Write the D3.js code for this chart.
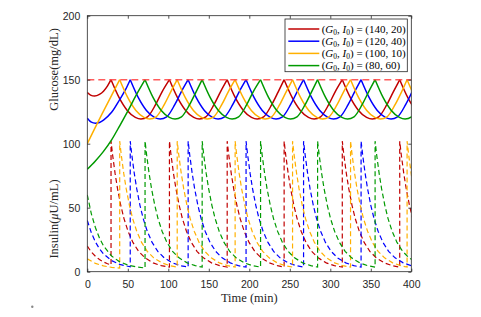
<!DOCTYPE html>
<html>
<head>
<meta charset="utf-8">
<script src="https://cdn.jsdelivr.net/npm/d3@7/dist/d3.min.js"></script>
<style>
  body { margin: 0; background: #fff; }
  svg { display: block; }
  .tick text { font-family: "Liberation Sans", Arial, sans-serif; font-size: 10.5px; fill: #262626; }
  .tick line { stroke: #262626; stroke-width: 0.8; }
  .lbl { font-family: "Liberation Serif", "Times New Roman", serif; font-size: 12.5px; fill: #262626; }
  .leg { font-family: "Liberation Serif", "Times New Roman", serif; font-size: 11px; fill: #000; }
</style>
</head>
<body>
<script>
// series: initial conditions (G0, I0)
var labels = ['(140, 20)', '(120, 40)', '(100, 10)', '(80, 60)'];
var colors = ['#c00000', '#0000ff', '#ffb000', '#009a00'];

var xTicks = [0, 50, 100, 150, 200, 250, 300, 350, 400];
var yTicks = [0, 50, 100, 150, 200];

var glucoseThreshold = 150;
var insulinFloor = 3.6;

// times (min) where glucose hits 150 and insulin jumps, read per series
var spikeTimes = [
	[29.3, 101.4, 172.7, 243, 314.8, 385.7],
	[53, 124.5, 196, 267, 338],
	[40, 111, 182.5, 253.4, 325, 394.8],
	[71.3, 141.8, 213.9, 284.3, 355.3]
];

// glucose before the first spike
var glucoseStart = [
	[[0, 140], [4, 138], [9, 137.2], [15, 138.5], [20, 141], [25, 145.2], [29.3, 150]],
	[[0, 120], [5, 116.8], [10, 116], [15, 116.6], [20, 118.5], [30, 124.5], [40, 134.5], [47, 142], [53, 150]],
	[[0, 100], [10, 113], [20, 125.5], [30, 137.8], [40, 150]],
	[[0, 80], [10, 86.5], [20, 94], [30, 103], [40, 114], [50, 125.5], [60, 137.5], [71.3, 150]]
];

// insulin before the first spike
var insulinStart = [
	[[0, 20], [5, 15.4], [10, 12.1], [15, 9.5], [20, 7.6], [25, 6.2], [29.3, 5.3]],
	[[0, 40], [5, 30.4], [10, 23.3], [15, 17.9], [20, 13.9], [30, 8.7], [40, 5.7], [53, 3.8]],
	[[0, 10], [10, 6.5], [20, 4.5], [30, 3.4], [40, 2.8]],
	[[0, 60], [5, 45.2], [10, 34.5], [15, 26.3], [20, 20.2], [30, 12.2], [40, 7.7], [50, 5.2], [60, 3.8], [71.3, 2.9]]
];

// one cycle after a spike (minutes since spike, value), same shape for all series
var glucoseCycle = [[0, 150], [10, 136], [20, 126], [30, 120.6], [37, 119.3], [45, 121], [55, 130.5], [63, 140.5]];
var insulinCycle = [[0, 102], [2, 91], [5, 76.8], [8, 64.9], [12, 51.9], [16, 41.5], [21, 31.6], [27, 22.9],
	[34, 15.9], [42, 10.8], [52, 6.9], [62, 4.7]];

var W = 481, H = 317;
var pLeft = 87.3, pRight = 411.3, pTop = 15.7, pBottom = 271.7;

var svg = d3.select('body').append('svg').attr('width', W).attr('height', H);

var x = d3.scaleLinear().domain([0, 400]).range([pLeft, pRight]);
var y = d3.scaleLinear().domain([0, 200]).range([pBottom, pTop]);

svg.append('clipPath').attr('id', 'clip')
	.append('rect').attr('x', pLeft).attr('y', pTop).attr('width', pRight - pLeft).attr('height', pBottom - pTop);

function glucoseSegments(k) {
	var spikes = spikeTimes[k];
	var segs = [glucoseStart[k]];
	spikes.forEach(function(ts, i) {
		var next = i + 1 < spikes.length ? spikes[i + 1] : Infinity;
		var seg = [];
		glucoseCycle.forEach(function(p) {
			if (ts + p[0] < next) seg.push([ts + p[0], p[1]]);
		});
		if (next < Infinity) seg.push([next, glucoseThreshold]);
		segs.push(seg);
	});
	return segs;
}

function insulinPoints(k) {
	var spikes = spikeTimes[k];
	var pts = insulinStart[k].slice();
	spikes.forEach(function(ts, i) {
		var next = i + 1 < spikes.length ? spikes[i + 1] : Infinity;
		insulinCycle.forEach(function(p) {
			if (ts + p[0] < next) pts.push([ts + p[0], p[1]]);
		});
		if (next < Infinity) pts.push([next, insulinFloor]);
	});
	return pts;
}

var smooth = d3.line().x(function(d) { return x(d[0]); }).y(function(d) { return y(d[1]); }).curve(d3.curveMonotoneX);
var straight = d3.line().x(function(d) { return x(d[0]); }).y(function(d) { return y(d[1]); });

var plot = svg.append('g').attr('clip-path', 'url(#clip)');

// insulin (dashed)
labels.forEach(function(l, k) {
	plot.append('path')
		.attr('d', straight(insulinPoints(k)))
		.attr('fill', 'none')
		.attr('stroke', colors[k])
		.attr('stroke-width', 1.2)
		.attr('stroke-dasharray', '5,3');
});

// glucose (solid)
labels.forEach(function(l, k) {
	glucoseSegments(k).forEach(function(seg) {
		plot.append('path')
			.attr('d', smooth(seg))
			.attr('fill', 'none')
			.attr('stroke', colors[k])
			.attr('stroke-width', 1.5);
	});
});

// threshold line
plot.append('path')
	.attr('d', straight([[0, glucoseThreshold], [400, glucoseThreshold]]))
	.attr('stroke', '#ff4040')
	.attr('stroke-opacity', 0.85)
	.attr('stroke-width', 1.5)
	.attr('stroke-dasharray', '7,4');

// axes, ticks inside
var gx = svg.append('g').attr('transform', 'translate(0,' + pBottom + ')')
	.call(d3.axisBottom(x).tickValues(xTicks).tickSizeInner(-3).tickSizeOuter(0).tickPadding(9));
var gy = svg.append('g').attr('transform', 'translate(' + pLeft + ',0)')
	.call(d3.axisLeft(y).tickValues(yTicks).tickSizeInner(-3).tickSizeOuter(0).tickPadding(7));
var gt = svg.append('g').attr('transform', 'translate(0,' + pTop + ')')
	.call(d3.axisTop(x).tickValues(xTicks).tickSizeInner(-3).tickSizeOuter(0).tickFormat(''));
var gr = svg.append('g').attr('transform', 'translate(' + pRight + ',0)')
	.call(d3.axisRight(y).tickValues(yTicks).tickSizeInner(-3).tickSizeOuter(0).tickFormat(''));
[gx, gy, gt, gr].forEach(function(g) { g.select('.domain').remove(); });

svg.append('rect')
	.attr('x', pLeft).attr('y', pTop)
	.attr('width', pRight - pLeft).attr('height', pBottom - pTop)
	.attr('fill', 'none').attr('stroke', '#262626').attr('stroke-width', 0.8);

// axis labels
svg.append('text').attr('class', 'lbl')
	.attr('x', (pLeft + pRight) / 2).attr('y', 302)
	.attr('text-anchor', 'middle').text('Time (min)');

svg.append('text').attr('class', 'lbl')
	.attr('transform', 'translate(57.5,69.5) rotate(-90)')
	.attr('text-anchor', 'middle').text('Glucose(mg/dL)');

var ins = svg.append('text').attr('class', 'lbl')
	.attr('transform', 'translate(57.5,219) rotate(-90)')
	.attr('text-anchor', 'middle');
ins.append('tspan').text('Insulin(');
ins.append('tspan').attr('font-style', 'italic').text('\u03bc');
ins.append('tspan').text('U/mL)');

// legend
var lg = svg.append('g').attr('transform', 'translate(285,19)');
lg.append('rect').attr('width', 122.3).attr('height', 52.7)
	.attr('fill', '#fff').attr('stroke', '#262626').attr('stroke-width', 0.8);

labels.forEach(function(l, k) {
	var ry = 10 + k * 12.2;
	lg.append('line').attr('x1', 3.3).attr('x2', 34.3).attr('y1', ry).attr('y2', ry)
		.attr('stroke', colors[k]).attr('stroke-width', 1.5);
	var t = lg.append('text').attr('class', 'leg').attr('x', 36.7).attr('y', ry + 3.8);
	t.append('tspan').text('(');
	t.append('tspan').attr('font-style', 'italic').text('G');
	t.append('tspan').attr('font-size', '7.5px').attr('dy', 2).text('0');
	t.append('tspan').attr('dy', -2).text(', ');
	t.append('tspan').attr('font-style', 'italic').text('I');
	t.append('tspan').attr('font-size', '7.5px').attr('dy', 2).text('0');
	t.append('tspan').attr('dy', -2).text(') = ' + l);
});

// stray dot at lower left
svg.append('circle').attr('cx', 32.3).attr('cy', 306.7).attr('r', 1.2).attr('fill', '#888');
</script>
</body>
</html>
